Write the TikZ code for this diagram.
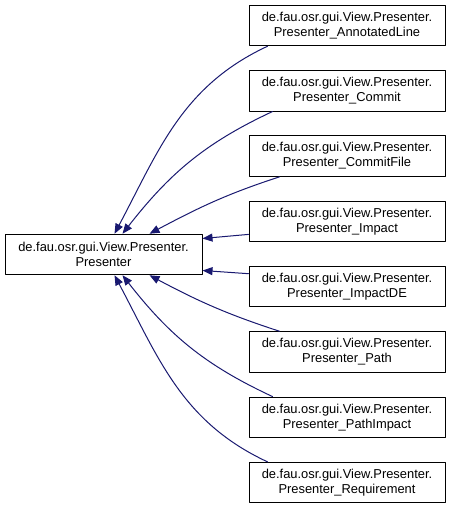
\documentclass[tikz,border=0pt]{standalone}
\usepackage{fontspec}
\setmainfont{Liberation Sans}
\usetikzlibrary{arrows.meta}
\definecolor{EdgeNavy}{HTML}{191970}

\begin{document}
\begin{tikzpicture}[
  x=1pt, y=1pt,
  line cap=round, line join=round,
  classbox/.style={draw=black, fill=white, line width=1pt,
    minimum width=196pt, minimum height=40.5pt, inner sep=0pt,
    align=center, font=\fontsize{12.9}{15}\selectfont},
  inh/.style={EdgeNavy, line width=1pt,
    {Triangle[length=10pt,width=8pt]}-}
]

% Page frame (reference size)
\useasboundingbox (0,0) rectangle (451,509);

% === Base class ===
\node[classbox, minimum width=197pt] (pres) at (103.5,254.5)
  {de.fau.osr.gui.View.Presenter.\\Presenter};

% === Derived classes, one column ===
\foreach \nm/\txt [count=\i from 0] in {
  ann/Presenter\_AnnotatedLine,
  com/Presenter\_Commit,
  cfile/Presenter\_CommitFile,
  imp/Presenter\_Impact,
  impde/Presenter\_ImpactDE,
  path/Presenter\_Path,
  pimp/Presenter\_PathImpact,
  req/Presenter\_Requirement%
}{
  \node[classbox] (\nm) at (347,{483.5-65.3*\i})
    {de.fau.osr.gui.View.Presenter.\\\txt};
}

% === Inheritance edges (upper half) ===
\draw[inh] ([xshift=110pt]pres.north west) to[out=62,in=205] ([xshift=19pt]ann.south west);
\draw[inh] ([xshift=118pt]pres.north west) to[out=52,in=205] ([xshift=24pt]com.south west);
\draw[inh] ([xshift=145pt]pres.north west) to[out=28,in=198] ([xshift=31pt]cfile.south west);
\draw[inh] ([yshift=16pt]pres.east) -- ([yshift=-13pt]imp.west);

% === Inheritance edges (lower half) ===
\draw[inh] ([yshift=-16pt]pres.east) -- ([yshift=13pt]impde.west);
\draw[inh] ([xshift=145pt]pres.south west) to[out=-28,in=162] ([xshift=31pt]path.north west);
\draw[inh] ([xshift=118pt]pres.south west) to[out=-52,in=155] ([xshift=24pt]pimp.north west);
\draw[inh] ([xshift=110pt]pres.south west) to[out=-62,in=155] ([xshift=19pt]req.north west);

\end{tikzpicture}
\end{document}
